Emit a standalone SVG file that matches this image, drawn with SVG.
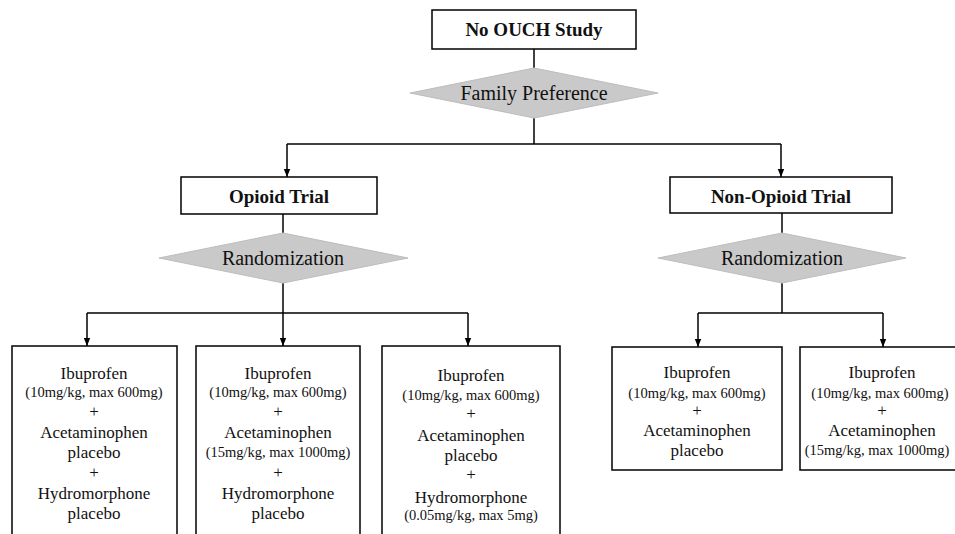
<svg xmlns="http://www.w3.org/2000/svg" width="955" height="534" viewBox="0 0 955 534">
<style>
.box{fill:#fff;stroke:#000;stroke-width:1.5}
.dia{fill:#c9c9c9;stroke:#bdbdbd;stroke-width:1}
.ln{fill:none;stroke:#000;stroke-width:1.5}
text{font-family:'Liberation Serif','Times New Roman',serif;fill:#111;text-anchor:middle}
.h{font-weight:bold;font-size:19px}
.d{font-size:20px}
.t{font-size:17px}
.s{font-size:14.5px}
</style>
<defs>
<marker id="a" markerWidth="8" markerHeight="10" refX="10" refY="4" orient="auto" markerUnits="userSpaceOnUse" viewBox="0 0 10 8">
<path d="M0,0 L10,4 L0,8 Z" fill="#000"/>
</marker>
</defs>
<g id="connectors">
<path class="ln" d="M534,49 V68"/>
<path class="ln" d="M534,118 V144"/>
<path class="ln" d="M287,144 H781"/>
<path class="ln" d="M287,144 V177" marker-end="url(#a)"/>
<path class="ln" d="M781,144 V177" marker-end="url(#a)"/>
<path class="ln" d="M283,214 V233"/>
<path class="ln" d="M283,283 V313"/>
<path class="ln" d="M87,313 H468"/>
<path class="ln" d="M87,313 V346" marker-end="url(#a)"/>
<path class="ln" d="M283,313 V346" marker-end="url(#a)"/>
<path class="ln" d="M468,313 V346" marker-end="url(#a)"/>
<path class="ln" d="M782,213 V233"/>
<path class="ln" d="M782,283 V313"/>
<path class="ln" d="M698,313 H883"/>
<path class="ln" d="M698,313 V347" marker-end="url(#a)"/>
<path class="ln" d="M883,313 V347" marker-end="url(#a)"/>
</g>
<g id="study">
<rect class="box" x="432" y="10" width="204" height="39"/>
<text class="h" x="534" y="36">No OUCH Study</text>
</g>
<g id="family">
<polygon class="dia" points="410,93 534,68 658,93 534,118"/>
<text class="d" x="534" y="100">Family Preference</text>
</g>
<g id="opioid">
<rect class="box" x="181" y="177" width="196" height="37"/>
<text class="h" x="279" y="203">Opioid Trial</text>
</g>
<g id="nonopioid">
<rect class="box" x="670" y="177" width="222" height="36"/>
<text class="h" x="781" y="203">Non-Opioid Trial</text>
</g>
<g id="rand1">
<polygon class="dia" points="159,258 283,233 408,258 283,283"/>
<text class="d" x="283" y="265">Randomization</text>
</g>
<g id="rand2">
<polygon class="dia" points="658,258 782,233 906,258 782,283"/>
<text class="d" x="782" y="265">Randomization</text>
</g>
<g id="arm1">
<rect class="box" x="12" y="346" width="165" height="200"/>
<text class="t" x="94" y="379">Ibuprofen</text>
<text class="s" x="94" y="397">(10mg/kg, max 600mg)</text>
<text class="t" x="94" y="417">+</text>
<text class="t" x="94" y="438">Acetaminophen</text>
<text class="t" x="94" y="458">placebo</text>
<text class="t" x="94" y="478">+</text>
<text class="t" x="94" y="499">Hydromorphone</text>
<text class="t" x="94" y="519">placebo</text>
</g>
<g id="arm2">
<rect class="box" x="196" y="346" width="164" height="200"/>
<text class="t" x="278" y="379">Ibuprofen</text>
<text class="s" x="278" y="397">(10mg/kg, max 600mg)</text>
<text class="t" x="278" y="417">+</text>
<text class="t" x="278" y="438">Acetaminophen</text>
<text class="s" x="278" y="457">(15mg/kg, max 1000mg)</text>
<text class="t" x="278" y="478">+</text>
<text class="t" x="278" y="499">Hydromorphone</text>
<text class="t" x="278" y="519">placebo</text>
</g>
<g id="arm3">
<rect class="box" x="382" y="346" width="178" height="200"/>
<text class="t" x="471" y="381">Ibuprofen</text>
<text class="s" x="471" y="400">(10mg/kg, max 600mg)</text>
<text class="t" x="471" y="419">+</text>
<text class="t" x="471" y="441">Acetaminophen</text>
<text class="t" x="471" y="461">placebo</text>
<text class="t" x="471" y="480">+</text>
<text class="t" x="471" y="503">Hydromorphone</text>
<text class="s" x="471" y="520">(0.05mg/kg, max 5mg)</text>
</g>
<g id="arm4">
<rect class="box" x="612" y="347" width="170" height="123"/>
<text class="t" x="697" y="378">Ibuprofen</text>
<text class="s" x="697" y="398">(10mg/kg, max 600mg)</text>
<text class="t" x="697" y="416">+</text>
<text class="t" x="697" y="436">Acetaminophen</text>
<text class="t" x="697" y="456">placebo</text>
</g>
<g id="arm5">
<rect class="box" x="800" y="347" width="170" height="123"/>
<text class="t" x="882" y="378">Ibuprofen</text>
<text class="s" x="880" y="398">(10mg/kg, max 600mg)</text>
<text class="t" x="882" y="416">+</text>
<text class="t" x="882" y="436">Acetaminophen</text>
<text class="s" x="877" y="455">(15mg/kg, max 1000mg)</text>
</g>
</svg>
